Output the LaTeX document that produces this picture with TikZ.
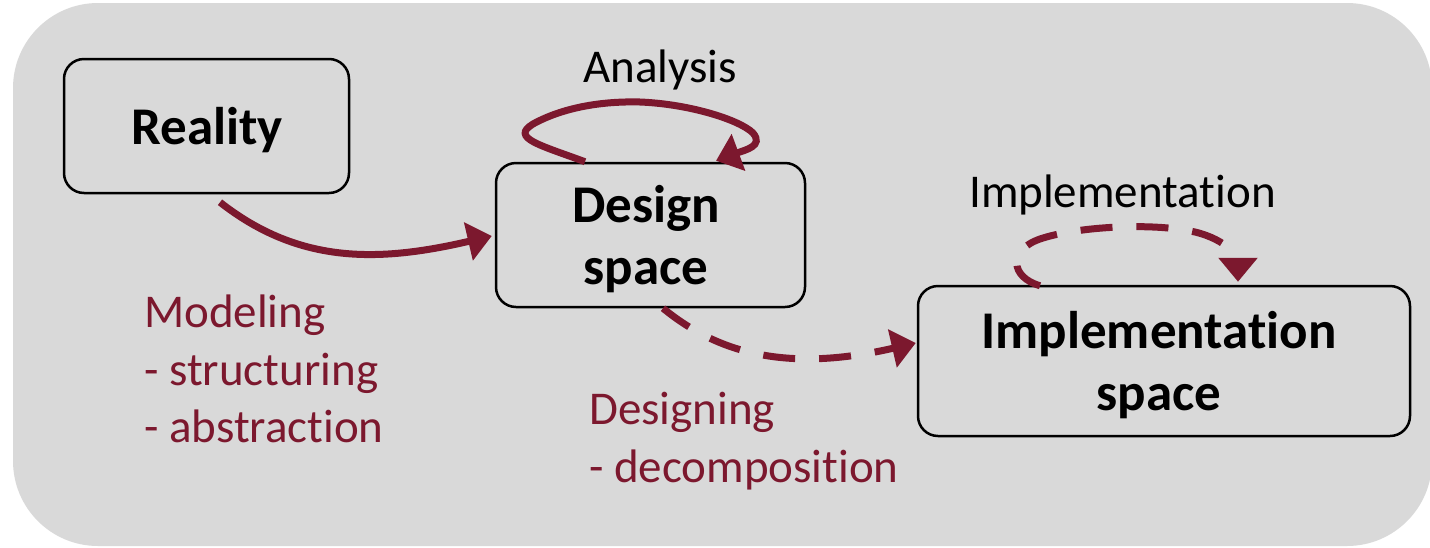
\documentclass[tikz,border=0pt]{standalone}
\usepackage{fontspec}
\setmainfont{Carlito}[Ligatures={NoCommon,NoContextual}]
\usetikzlibrary{arrows.meta}

\definecolor{panel}{HTML}{D9D9D9}
\definecolor{wine}{RGB}{124,24,46}

% keeps t and i as separate letters
\newcommand{\tisep}{t\kern0pt i}

\tikzset{
  spacebox/.style={draw=black, line width=2.5pt, rounded corners=20pt, inner sep=0pt},
  boxlabel/.style={font=\fontsize{53}{62}\selectfont\bfseries, align=center, inner sep=0pt},
  plainlabel/.style={font=\fontsize{47}{57}\selectfont, inner sep=0pt},
  notelabel/.style={font=\fontsize{47}{57.5}\selectfont, text=wine, align=left, inner sep=0pt, anchor=north west},
  flow/.style={draw=wine, line width=7pt, -{Triangle[length=24pt,width=38pt]}},
  dashflow/.style={flow, dash pattern=on 32pt off 24pt},
}

\begin{document}
\begin{tikzpicture}[x=1pt, y=-1pt]
  \useasboundingbox (0,0) rectangle (1430,547);
  % grey panel
  \fill[panel, rounded corners=85pt] (13,3) rectangle (1432,546);

  % the three spaces
  \node[spacebox, minimum width=285pt, minimum height=134pt] (reality) at (206.5,126) {};
  \node[spacebox, minimum width=309pt, minimum height=144pt] (design) at (650.5,235) {};
  \node[spacebox, minimum width=492pt, minimum height=150pt] (impl) at (1164,361) {};

  \node[boxlabel, anchor=base] (realitytext) at (207,144) {Reality};
  \node[boxlabel] (designtext) at (646,239.5) {Design\\space};
  \node[boxlabel] (impltext) at (1159,365) {Implementa\tisep on\\space};

  % activity labels
  \node[plainlabel, anchor=base] (analysis) at (660,82.7) {Analysis};
  \node[plainlabel, anchor=base] (implementation) at (1122.5,207.7) {Implementa\tisep on};
  \node[notelabel] (modeling) at (144,295) {Modeling\\- structuring\\- abstrac\tisep on};
  \node[notelabel] (designing) at (589,392) {Designing\\- decomposi\tisep on};

  % modeling: reality -> design space
  \draw[flow] ([shift={(13.5,8)}]reality.south)
    .. controls (300,265) and (380,262) .. ([shift={(-3,1)}]design.west);

  % analysis loop on the design space
  \draw[flow] ([shift={(-65.5,0)}]design.north)
    .. controls (540,145) and (510,138) .. (533,124)
    .. controls (562,108) and (600,101) .. (640,102)
    .. controls (690,104) and (740,120) .. (753,133)
    .. controls (764,146) and (745,150) .. ([shift={(65.5,-1)}]design.north);

  % designing: design space -> implementation space
  \draw[dashflow] ([shift={(12.5,0)}]design.south)
    .. controls (720,355) and (790,372) .. ([shift={(-1,-18)}]impl.west);

  % implementation loop on the implementation space
  \draw[dashflow] ([shift={(-124,1)}]impl.north)
    .. controls (1010,277) and (1008,250) .. (1040,239)
    .. controls (1075,227) and (1150,222) .. (1195,232)
    .. controls (1228,240) and (1238,258) .. ([shift={(74,-3)}]impl.north);
\end{tikzpicture}
\end{document}
